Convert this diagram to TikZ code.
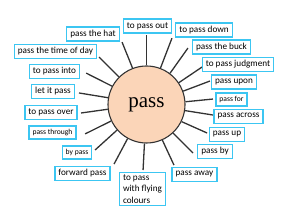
\documentclass[tikz,border=0pt]{standalone}
\usepackage{fontspec}
\setmainfont{Carlito}
\newfontfamily\hubfont{Liberation Serif}
\usetikzlibrary{positioning}
\definecolor{Edge}{HTML}{3CC6F2}
\definecolor{Peach}{HTML}{FBD5B8}
\definecolor{Ink}{HTML}{333333}
\tikzset{
    phrase/.style={rectangle, draw=Edge, line width=1.3pt, fill=white, text=black, inner xsep=3.5pt, inner ysep=0pt, minimum height=14pt, font=\fontsize{9.2}{11}\selectfont},
    smallphrase/.style={phrase, minimum height=13pt, font=\fontsize{7.6}{9}\selectfont},
    hub/.style={circle, draw=Ink, line width=1.1pt, fill=Peach, minimum size=77pt, inner sep=0pt, font=\hubfont\fontsize{21}{24}\selectfont},
    spoke/.style={Ink, line width=1.3pt},
}
\begin{document}
\begin{tikzpicture}[x=1pt, y=1pt]
    \useasboundingbox (0,0) rectangle (300,211);

    % Centro
    \node[hub] (pass) at (146.5,106.5) {pass};

    % Raggi
    \foreach \a/\l in {4.7/66.7, 20.3/67.7, 34/67, 53.7/70, 69/71, 90/69.5, 111.4/67, 135/67, 152.5/68, 170.3/68.5, 187.4/66, 205.6/68, 221.5/68.7, 241.4/67.8, 267/65.6, 294.4/66.5, 313.8/67.2, 334.8/67, 351/67.3}
        \draw[spoke] (pass.\a) -- ([shift={(\a:\l)}]pass.center);

    % Espressioni a sinistra
    \node[phrase] (hat) at (93,177) {pass the hat};
    \node[phrase] (timeofday) at (55.5,159.5) {pass the time of day};
    \node[phrase] (into) at (54.5,139.5) {to pass into};
    \node[phrase] (letit) at (53,119.5) {let it pass};
    \node[phrase] (over) at (51,98.5) {to pass over};
    \node[smallphrase] (through) at (52.5,78.5) {pass through};
    \node[smallphrase] (bypass) at (77,58.5) {by pass};
    \node[phrase] (forward) at (82.5,37.5) {forward pass};

    % Espressioni in alto e in basso
    \node[phrase] (out) at (147.5,185) {to pass out};
    \node[phrase, align=left, font=\fontsize{9.2}{11.5}\selectfont, inner ysep=2pt] (flying) at (142.5,22) {to pass\\with flying\\colours};

    % Espressioni a destra
    \node[phrase] (down) at (204,181) {to pass down};
    \node[phrase] (buck) at (221.5,164) {pass the buck};
    \node[phrase] (judgment) at (238,146.5) {to pass judgment};
    \node[phrase] (upon) at (234,129) {pass upon};
    \node[smallphrase] (for) at (231.5,111.5) {pass for};
    \node[phrase] (across) at (238.5,94.5) {pass across};
    \node[phrase] (up) at (227,76.5) {pass up};
    \node[phrase] (by) at (215,59.5) {pass by};
    \node[phrase] (away) at (194.5,36.5) {pass away};
\end{tikzpicture}
\end{document}
